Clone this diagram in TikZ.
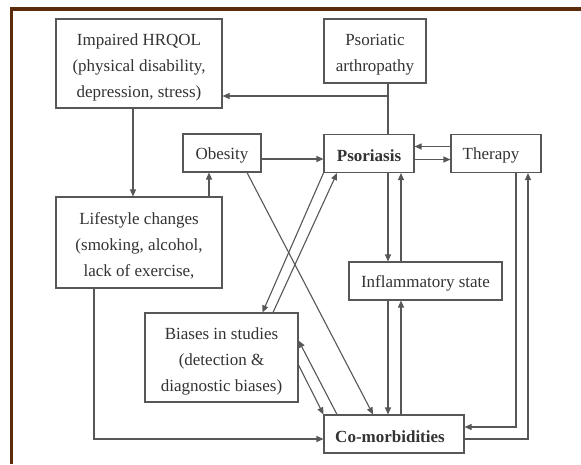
\documentclass[tikz,border=0pt]{standalone}
\usepackage{fontspec}
\setmainfont{Liberation Serif}
\usetikzlibrary{arrows.meta, calc}
\definecolor{framebrown}{rgb}{0.36, 0.17, 0.04}
\definecolor{linegray}{rgb}{0.34, 0.34, 0.34}
\definecolor{textgray}{rgb}{0.2, 0.2, 0.2}
\newcommand{\lift}{\rule{0pt}{19pt}}

\begin{document}
\begin{tikzpicture}[x=1pt, y=-1pt]
        \tikzstyle{box} = [rectangle, draw=linegray, line width=1.1pt, text=textgray, font=\fontsize{17}{26}\selectfont, align=center, inner sep=0pt, minimum height=38pt, execute at begin node={\rule{0pt}{16.5pt}}]
        \tikzstyle{link} = [draw=linegray, line width=1.1pt]
        \tikzstyle{arr} = [link, -{Triangle[length=7pt, width=6pt]}]

        \useasboundingbox (0,0) rectangle (581,464);
        \fill[white] (0,0) rectangle (581,464);
        \fill[framebrown] (10,7) rectangle (581,11);
        \fill[framebrown] (10,7) rectangle (13,464);

        \node[box, minimum width=166pt, minimum height=89pt] (hrqol) at (139,63.5) {\lift Impaired HRQOL\\(physical disability,\\depression, stress)};
        \node[box, minimum width=102pt, minimum height=64pt] (arth) at (375,51) {\lift Psoriatic\\arthropathy};
        \node[box, minimum width=78pt] (obes) at (222,153) {Obesity};
        \node[box, minimum width=90pt, font=\fontsize{17}{26}\selectfont\bfseries] (psor) at (369,153.5) {Psoriasis};
        \node[box, minimum width=90pt] (ther) at (496,153.5) {Therapy\hspace{10pt}};
        \node[box, minimum width=166pt, minimum height=91pt] (life) at (139,242.5) {\lift Lifestyle changes\\(smoking, alcohol,\\lack of exercise,};
        \node[box, minimum width=153pt] (infl) at (425.5,281) {Inflammatory state};
        \node[box, minimum width=153pt, minimum height=89pt] (bias) at (221.5,357.5) {\lift Biases in studies\\(detection \&\\diagnostic biases)};
        \node[box, minimum width=140pt, font=\fontsize{17}{26}\selectfont\bfseries] (como) at (394,434) {Co-morbidities\hspace{8pt}};

        \coordinate (laneA) at (388,0);
        \coordinate (laneB) at (401,0);
        \coordinate (laneC) at (516,0);
        \coordinate (laneD) at (528,0);
        \coordinate (laneE) at (94,0);
        \coordinate (laneF) at (133,0);
        \coordinate (laneG) at (209,0);
        \coordinate (junc) at (388,96);

        \draw[link] (arth.south -| laneA) -- (psor.north -| laneA);
        \draw[arr] (junc) -- (junc -| hrqol.east);
        \draw[arr] (hrqol.south -| laneF) -- (life.north -| laneF);
        \draw[arr] (life.north -| laneG) -- (obes.south -| laneG);

        \draw[arr] ([yshift=-6pt]obes.east) -- ([yshift=-6pt]obes.east -| psor.west);
        \draw[arr] ([yshift=7pt]ther.west) -- ([yshift=7pt]ther.west -| psor.east);
        \draw[arr] ([yshift=-6pt]psor.east) -- ([yshift=-6pt]psor.east -| ther.west);

        \draw[arr] (psor.south -| laneA) -- (infl.north -| laneA);
        \draw[arr] (infl.north -| laneB) -- (psor.south -| laneB);
        \draw[arr] (infl.south -| laneA) -- (como.north -| laneA);
        \draw[arr] (como.north -| laneB) -- (infl.south -| laneB);

        \draw[arr] (ther.south -| laneC) |- ([yshift=7pt]como.east);
        \draw[arr] ([yshift=-5pt]como.east) -| (ther.south -| laneD);
        \draw[arr] (life.south -| laneE) |- ([yshift=-5pt]como.west);

        \draw[arr] ([xshift=25pt]obes.south) -- ([xshift=-21pt]como.north);
        \draw[arr] (psor.south west) -- ([xshift=41pt]bias.north);
        \draw[arr] ([xshift=51.5pt]bias.north) -- ([xshift=-32pt]psor.south);
        \draw[arr] ([xshift=-57pt]como.north) -- ([yshift=17pt]bias.east);
        \draw[arr] ([yshift=-7.5pt]bias.east) -- (como.north west);
    \end{tikzpicture}
\end{document}
